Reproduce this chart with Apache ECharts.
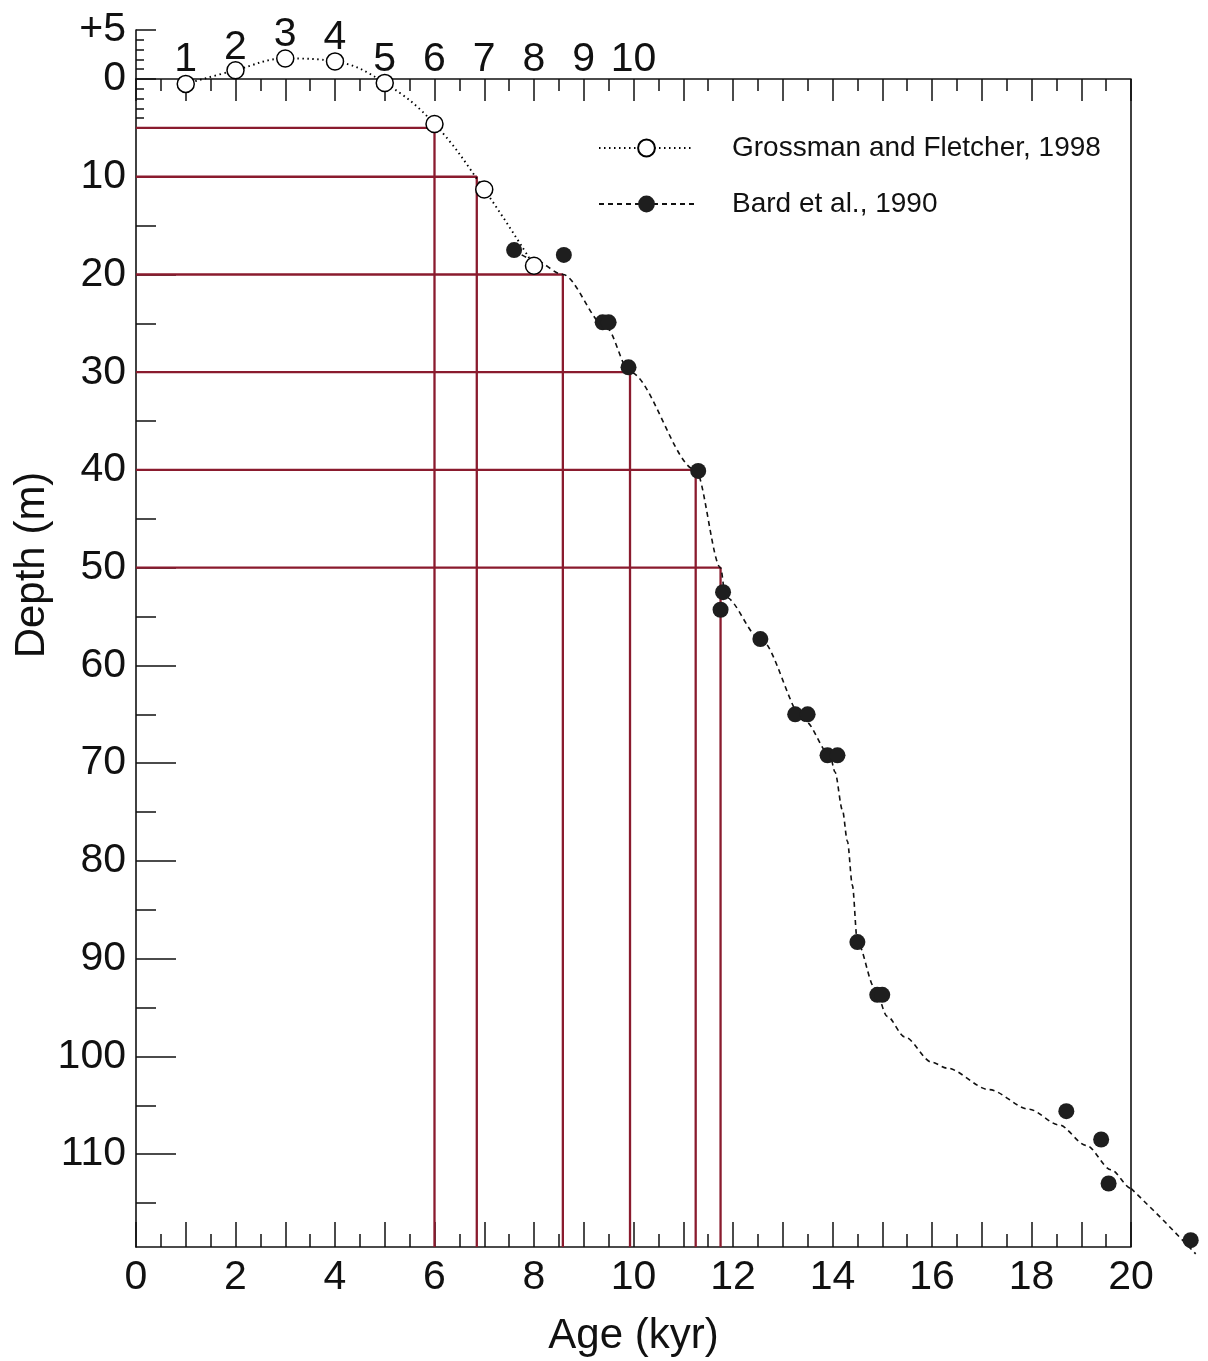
<!DOCTYPE html>
<html><head><meta charset="utf-8">
<script src="https://cdn.jsdelivr.net/npm/echarts@6/dist/echarts.min.js"></script>
<style>html,body{margin:0;padding:0;background:#fff}#c{width:1208px;height:1361px}</style>
</head><body><div id="c"></div>
<script>
// ---- data ----
const grossmanAge   = [1.0, 2.0, 3.0, 4.0, 5.0, 6.0, 7.0, 8.0];
const grossmanDepth = [0.5, -0.9, -2.1, -1.8, 0.4, 4.6, 11.3, 19.1];

const bardAge   = [7.6, 8.6, 9.38, 9.5, 9.9, 11.3, 11.8, 11.75, 12.55, 13.25, 13.5, 13.9, 14.1, 14.5, 14.9, 15.0, 18.7, 19.4, 19.55, 21.2];
const bardDepth = [17.5, 18.0, 24.9, 24.9, 29.5, 40.1, 52.5, 54.3, 57.3, 65.0, 65.0, 69.2, 69.2, 88.3, 93.7, 93.7, 105.6, 108.5, 113.0, 118.8];

const bardCurveAge   = [7.6, 8.0, 8.58, 9.45, 9.93, 11.25, 11.75, 11.85, 12.55, 13.45, 13.95, 14.05, 14.2, 14.3, 14.4, 14.5, 14.85, 15.1, 15.45, 16.0, 16.3, 17.15, 17.95, 18.55, 19.1, 19.6, 20.0, 20.6, 21.3];
const bardCurveDepth = [17.5, 18.5, 20.0, 25.4, 30.0, 40.0, 50.0, 53.0, 57.3, 65.7, 69.2, 70.9, 74.8, 78.0, 82.5, 88.3, 93.0, 95.9, 98.0, 100.6, 101.2, 103.4, 105.4, 107.0, 109.1, 111.6, 113.5, 116.5, 120.2];

const markerDepth = [5, 10, 20, 30, 40, 50];
const markerAge   = [6.0, 6.85, 8.58, 9.93, 11.25, 11.75];

const yLabelValues = [0, 10, 20, 30, 40, 50, 60, 70, 80, 90, 100, 110];
const yMajorTicks  = [10, 20, 30, 40, 50, 60, 70, 80, 90, 100, 110];
const yMidTicks    = [5, 15, 25, 35, 45, 55, 65, 75, 85, 95, 105, 115];
const yMinorTicks  = [1, 2, 3, 4];
const yUpperLabels = [-5];
const xBottomLabels = [0, 2, 4, 6, 8, 10, 12, 14, 16, 18, 20];
const xTopLabels    = [1, 2, 3, 4, 5, 6, 7, 8, 9, 10];

const xMin = 0, xMax = 20, yTop = -5, yMin = 0, yMax = 119.5;
const seriesNames = ['Grossman and Fletcher, 1998', 'Bard et al., 1990'];

// ---- chart ----
const FONT = "'Liberation Sans', Arial, Helvetica, sans-serif";
const INK = '#111';
const RED = '#8a1b2e';
const chart = echarts.init(document.getElementById('c'), null, {renderer: 'canvas'});

const zip = (a, b) => a.map((v, i) => [v, b[i]]);
const bardCurve = zip(bardCurveAge, bardCurveDepth);
const bardTail = bardCurve.filter(p => p[0] >= xMax);

const series = [];
markerAge.forEach((a, i) => {
  const d = markerDepth[i];
  series.push({
    type: 'line', silent: true, clip: false, symbol: 'none', z: 1,
    data: [[xMin, d], [a, d], [a, yMax]],
    lineStyle: {color: RED, width: 2.3}
  });
});
series.push({
  type: 'line', silent: true, clip: false, symbol: 'none', z: 1,
  data: [[xMax, yMin], [xMax, yMax]],
  lineStyle: {color: INK, width: 1.6}
});
series.push({
  name: seriesNames[0], type: 'line', clip: false, z: 4,
  data: zip(grossmanAge, grossmanDepth),
  smooth: 0.4,
  symbol: 'circle', symbolSize: 17,
  itemStyle: {color: '#fff', borderColor: '#000', borderWidth: 1.5},
  lineStyle: {color: '#000', width: 1.9, type: [1.5, 3.5]}
});
series.push({
  name: seriesNames[1], type: 'line', clip: false, z: 2,
  data: bardCurve,
  smooth: 0.3, smoothMonotone: 'x',
  symbol: 'circle', showSymbol: false, symbolSize: 16,
  itemStyle: {color: '#1e1e1e'},
  lineStyle: {color: '#111', width: 1.6, type: [5, 4]}
});
series.push({
  type: 'lines', coordinateSystem: 'cartesian2d', polyline: true, clip: false, silent: true, z: 2,
  data: [{coords: bardTail}],
  lineStyle: {color: '#111', width: 1.6, type: [5, 4], opacity: 1}
});
series.push({
  name: seriesNames[1], type: 'scatter', clip: false, z: 3,
  data: zip(bardAge, bardDepth),
  symbol: 'circle', symbolSize: 16,
  itemStyle: {color: '#1e1e1e', opacity: 1}
});

const axisLineStyle = {color: INK, width: 1.6};
const tickStyle = {color: INK, width: 1.5};
const labelStyle = {fontSize: 41, color: INK, fontFamily: FONT};
const yFmt = v => (v < 0 ? '+' + (-v) : String(v));

const yBase = {
  type: 'value', inverse: true, min: yMin, max: yMax, position: 'left', gridIndex: 0,
  splitLine: {show: false}
};

const raise = {2: 12, 3: 25, 4: 22};
const topRich = {};
Object.keys(raise).forEach(k => {
  topRich['r' + k] = {fontSize: 41, color: INK, fontFamily: FONT, padding: [0, 0, raise[k], 0]};
});

const option = {
  animation: false,
  backgroundColor: '#fff',
  grid: [
    {left: 136, right: 77, top: 79, bottom: 114, outerBoundsMode: 'none', containLabel: false},
    {left: 136, right: 77, top: 30, height: 49, outerBoundsMode: 'none', containLabel: false}
  ],
  legend: {
    data: seriesNames, orient: 'vertical', left: 593, top: 129,
    itemWidth: 95, itemHeight: 21, itemGap: 28, selectedMode: false,
    textStyle: {fontSize: 28, color: INK, fontFamily: FONT, padding: [0, 0, 0, 33]}
  },
  xAxis: [
    {
      type: 'value', gridIndex: 0, position: 'bottom', min: xMin, max: xMax, interval: 1,
      axisLine: {onZero: false, lineStyle: axisLineStyle},
      axisTick: {inside: true, length: 25, lineStyle: tickStyle},
      minorTick: {show: true, splitNumber: 2, length: 13, lineStyle: tickStyle},
      axisLabel: Object.assign({customValues: xBottomLabels, margin: 10}, labelStyle),
      splitLine: {show: false}, minorSplitLine: {show: false},
      name: 'Age (kyr)', nameLocation: 'middle', nameGap: 68,
      nameTextStyle: {fontSize: 42, color: INK, fontFamily: FONT}
    },
    {
      type: 'value', gridIndex: 0, position: 'top', min: xMin, max: xMax, interval: 1,
      axisLine: {onZero: false, lineStyle: axisLineStyle},
      axisTick: {inside: true, length: 22, lineStyle: tickStyle},
      minorTick: {show: true, splitNumber: 2, length: 12, lineStyle: tickStyle},
      axisLabel: Object.assign({
        customValues: xTopLabels, margin: -1,
        formatter: v => (raise[v] ? '{r' + v + '|' + v + '}' : String(v)),
        rich: topRich
      }, labelStyle),
      splitLine: {show: false}, minorSplitLine: {show: false}
    },
    {
      type: 'value', gridIndex: 1, min: xMin, max: xMax, show: false
    }
  ],
  yAxis: [
    Object.assign({}, yBase, {
      axisLine: {onZero: false, lineStyle: axisLineStyle},
      axisTick: {customValues: yMajorTicks, inside: true, length: 40, lineStyle: tickStyle},
      axisLabel: Object.assign({customValues: yLabelValues, margin: 10, formatter: yFmt}, labelStyle)
    }),
    Object.assign({}, yBase, {
      axisLine: {show: false, onZero: false},
      axisTick: {customValues: yMidTicks, inside: true, length: 20, lineStyle: tickStyle},
      axisLabel: {show: false}
    }),
    Object.assign({}, yBase, {
      axisLine: {show: false, onZero: false},
      axisTick: {customValues: yMinorTicks, inside: true, length: 8, lineStyle: tickStyle},
      axisLabel: {show: false}
    }),
    {
      type: 'value', gridIndex: 1, inverse: true, min: yTop, max: yMin, interval: 5, position: 'left',
      axisLine: {onZero: false, lineStyle: axisLineStyle},
      axisTick: {inside: true, length: 20, lineStyle: tickStyle},
      minorTick: {show: true, splitNumber: 5, length: 8, lineStyle: tickStyle},
      axisLabel: Object.assign({customValues: yUpperLabels, margin: 10, formatter: yFmt}, labelStyle),
      splitLine: {show: false}, minorSplitLine: {show: false}
    }
  ],
  graphic: [{
    type: 'text', x: 32, y: 565, rotation: Math.PI / 2,
    style: {text: 'Depth (m)', font: '42px ' + FONT, fill: INK, textAlign: 'center', textVerticalAlign: 'middle'}
  }],
  series: series
};
chart.setOption(option);
</script>
</body></html>
